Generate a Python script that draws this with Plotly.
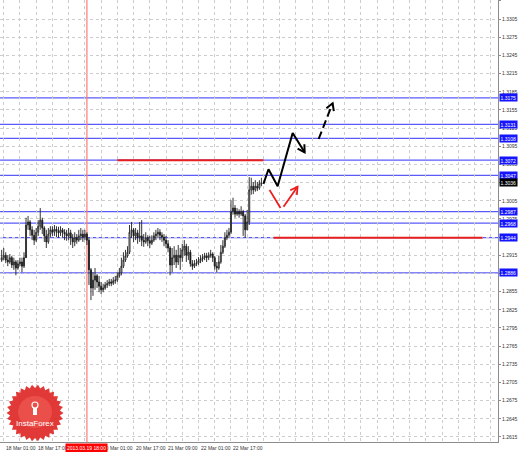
import numpy as np
import plotly.graph_objects as go

# hourly bars, hour 0 = 18 Mar 01:00
open_ = [
    1.2907, 1.2911, 1.2915, 1.2907, 1.2904, 1.2911, 1.2899, 1.2904, 1.2894, 1.2901,
    1.2904, 1.2897, 1.2911, 1.2965, 1.2970, 1.2957, 1.2948, 1.2940, 1.2953, 1.2963,
    1.2973, 1.2960, 1.2947, 1.2937, 1.2950, 1.2957, 1.2953, 1.2958, 1.2955, 1.2952,
    1.2957, 1.2953, 1.2950, 1.2947, 1.2952, 1.2944, 1.2937, 1.2944, 1.2940, 1.2947,
    1.2950, 1.2945, 1.2950, 1.2940, 1.2891, 1.2861, 1.2874, 1.2881, 1.2871, 1.2864,
    1.2858, 1.2861, 1.2866, 1.2868, 1.2871, 1.2869, 1.2873, 1.2874, 1.2881, 1.2886,
    1.2897, 1.2907, 1.2914, 1.2920, 1.2953, 1.2957, 1.2947, 1.2952, 1.2944, 1.2947,
    1.2940, 1.2937, 1.2944, 1.2939, 1.2935, 1.2940, 1.2947, 1.2950, 1.2953, 1.2948,
    1.2945, 1.2940, 1.2934, 1.2927, 1.2899, 1.2911, 1.2915, 1.2904, 1.2915, 1.2911,
    1.2924, 1.2930, 1.2915, 1.2920, 1.2901, 1.2897, 1.2901, 1.2902, 1.2906, 1.2909,
    1.2911, 1.2914, 1.2911, 1.2915, 1.2917, 1.2911, 1.2897, 1.2894, 1.2904, 1.2920,
    1.2930, 1.2944, 1.2948, 1.2953, 1.2987, 1.2993, 1.2983, 1.2987, 1.2983, 1.2987,
    1.2980, 1.2957, 1.2970, 1.3023, 1.3029, 1.3023, 1.3029, 1.3026, 1.3033,
]
high = [
    1.2924, 1.2927, 1.2920, 1.2915, 1.2917, 1.2914, 1.2911, 1.2907, 1.2907, 1.2911,
    1.2911, 1.2920, 1.2977, 1.2980, 1.2973, 1.2963, 1.2957, 1.2960, 1.2973, 1.2993,
    1.2977, 1.2963, 1.2957, 1.2960, 1.2963, 1.2963, 1.2965, 1.2963, 1.2962, 1.2963,
    1.2960, 1.2958, 1.2957, 1.2960, 1.2957, 1.2950, 1.2953, 1.2950, 1.2957, 1.2960,
    1.2957, 1.2957, 1.2953, 1.2944, 1.2894, 1.2887, 1.2894, 1.2884, 1.2881, 1.2871,
    1.2868, 1.2871, 1.2874, 1.2876, 1.2876, 1.2879, 1.2881, 1.2887, 1.2894, 1.2911,
    1.2920, 1.2924, 1.2930, 1.2965, 1.2970, 1.2960, 1.2960, 1.2957, 1.2970, 1.2973,
    1.2950, 1.2953, 1.2948, 1.2947, 1.2948, 1.2953, 1.2957, 1.2960, 1.2958, 1.2953,
    1.2950, 1.2947, 1.2940, 1.2930, 1.2927, 1.2930, 1.2924, 1.2932, 1.2927, 1.2934,
    1.2940, 1.2934, 1.2930, 1.2924, 1.2907, 1.2907, 1.2909, 1.2912, 1.2915, 1.2917,
    1.2919, 1.2919, 1.2920, 1.2924, 1.2920, 1.2914, 1.2904, 1.2914, 1.2932, 1.2940,
    1.2953, 1.2957, 1.2960, 1.3006, 1.3010, 1.2998, 1.2993, 1.2991, 1.2996, 1.2990,
    1.2983, 1.2990, 1.3044, 1.3043, 1.3036, 1.3039, 1.3036, 1.3039, 1.3043,
]
low = [
    1.2904, 1.2907, 1.2902, 1.2897, 1.2901, 1.2894, 1.2891, 1.2882, 1.2891, 1.2897,
    1.2887, 1.2894, 1.2915, 1.2957, 1.2947, 1.2940, 1.2932, 1.2937, 1.2947, 1.2957,
    1.2950, 1.2937, 1.2927, 1.2934, 1.2944, 1.2947, 1.2947, 1.2945, 1.2944, 1.2947,
    1.2944, 1.2940, 1.2939, 1.2940, 1.2932, 1.2927, 1.2930, 1.2934, 1.2937, 1.2940,
    1.2937, 1.2940, 1.2932, 1.2866, 1.2841, 1.2848, 1.2858, 1.2861, 1.2854, 1.2851,
    1.2854, 1.2858, 1.2861, 1.2864, 1.2864, 1.2866, 1.2868, 1.2871, 1.2878, 1.2882,
    1.2894, 1.2904, 1.2911, 1.2917, 1.2944, 1.2937, 1.2940, 1.2934, 1.2937, 1.2930,
    1.2929, 1.2934, 1.2930, 1.2927, 1.2932, 1.2937, 1.2940, 1.2944, 1.2940, 1.2937,
    1.2930, 1.2927, 1.2920, 1.2882, 1.2887, 1.2899, 1.2894, 1.2899, 1.2891, 1.2904,
    1.2914, 1.2904, 1.2907, 1.2896, 1.2891, 1.2894, 1.2897, 1.2899, 1.2902, 1.2904,
    1.2907, 1.2904, 1.2907, 1.2911, 1.2904, 1.2891, 1.2887, 1.2891, 1.2901, 1.2917,
    1.2927, 1.2940, 1.2944, 1.2950, 1.2982, 1.2977, 1.2980, 1.2977, 1.2980, 1.2947,
    1.2944, 1.2957, 1.2965, 1.3015, 1.3016, 1.3020, 1.3021, 1.3023, 1.3029,
]
close = [
    1.2911, 1.2915, 1.2907, 1.2904, 1.2911, 1.2899, 1.2904, 1.2894, 1.2901, 1.2904,
    1.2897, 1.2911, 1.2965, 1.2970, 1.2957, 1.2948, 1.2940, 1.2953, 1.2963, 1.2973,
    1.2960, 1.2947, 1.2937, 1.2950, 1.2957, 1.2953, 1.2958, 1.2955, 1.2952, 1.2957,
    1.2953, 1.2950, 1.2947, 1.2952, 1.2944, 1.2937, 1.2944, 1.2940, 1.2947, 1.2950,
    1.2945, 1.2950, 1.2940, 1.2891, 1.2861, 1.2874, 1.2881, 1.2871, 1.2864, 1.2858,
    1.2861, 1.2866, 1.2868, 1.2871, 1.2869, 1.2873, 1.2874, 1.2881, 1.2886, 1.2897,
    1.2907, 1.2914, 1.2920, 1.2953, 1.2957, 1.2947, 1.2952, 1.2944, 1.2947, 1.2940,
    1.2937, 1.2944, 1.2939, 1.2935, 1.2940, 1.2947, 1.2950, 1.2953, 1.2948, 1.2945,
    1.2940, 1.2934, 1.2927, 1.2899, 1.2911, 1.2915, 1.2904, 1.2915, 1.2911, 1.2924,
    1.2930, 1.2915, 1.2920, 1.2901, 1.2897, 1.2901, 1.2902, 1.2906, 1.2909, 1.2911,
    1.2914, 1.2911, 1.2915, 1.2917, 1.2911, 1.2897, 1.2894, 1.2904, 1.2920, 1.2930,
    1.2944, 1.2948, 1.2953, 1.2987, 1.2993, 1.2983, 1.2987, 1.2983, 1.2987, 1.2980,
    1.2957, 1.2970, 1.3023, 1.3029, 1.3023, 1.3029, 1.3026, 1.3033, 1.3034,
]
hours = list(range(-1, len(close) - 1))

time_hours = [0, 16, 32, 48, 64, 80, 96, 112]
time_labels = ["18 Mar 01:00", "18 Mar 17:00", "19 Mar 09:00", "20 Mar 01:00",
               "20 Mar 17:00", "21 Mar 09:00", "22 Mar 01:00", "22 Mar 17:00"]
marker_hour = 41
marker_label = "2013.03.19 18:00"

price_ticks = [1.2615, 1.2645, 1.2675, 1.2705, 1.2735, 1.2765, 1.2795, 1.2825,
               1.2855, 1.2885, 1.2915, 1.2945, 1.2975, 1.3005, 1.3035, 1.3065,
               1.3095, 1.3125, 1.3155, 1.3185, 1.3215, 1.3245, 1.3275, 1.3305, 1.3336]

blue_levels = [1.3175, 1.3131, 1.3108, 1.3072, 1.3047, 1.2987, 1.2968, 1.2944, 1.2886]
last_price = 1.3036

red_levels = [1.3072, 1.2944]
red_from = [56, 133]
red_to = [128, 236]

# forecast paths (hour, price)
main_h = [128.0, 130.5, 135.0, 142.4, 148.3]
main_p = [1.3033, 1.3057, 1.3029, 1.3117, 1.3085]
dash_h = [155.2, 162.1]
dash_p = [1.3107, 1.3166]
alt1_h = [131.0, 136.4]
alt1_p = [1.3023, 1.2993]
alt2_h = [137.9, 144.8]
alt2_p = [1.2995, 1.3028]

X0, X1 = -1.83, 243.6
Y0, Y1 = 1.26067, 1.33365
W, H = 498, 442


def to_px(h, p):
    return (h - X0) / (X1 - X0) * W, (Y1 - p) / (Y1 - Y0) * H


def from_px(x, y):
    return X0 + x / W * (X1 - X0), Y1 - y / H * (Y1 - Y0)


def arrow_head(hs, ps, length=8, ang=30):
    xa, ya = to_px(hs[-2], ps[-2])
    xb, yb = to_px(hs[-1], ps[-1])
    a = np.arctan2(ya - yb, xa - xb)
    pts = []
    for d in (np.radians(ang), -np.radians(ang)):
        pts.append(from_px(xb + length * np.cos(a + d), yb + length * np.sin(a + d)))
    return [pts[0][0], hs[-1], pts[1][0]], [pts[0][1], ps[-1], pts[1][1]]


fig = go.Figure()

fig.add_trace(go.Candlestick(
    x=hours, open=open_, high=high, low=low, close=close,
    increasing=dict(line=dict(color='rgb(30,30,30)', width=0.9), fillcolor='white'),
    decreasing=dict(line=dict(color='rgb(30,30,30)', width=0.9), fillcolor='black'),
    whiskerwidth=0, hoverinfo='skip'))

for lv in blue_levels:
    fig.add_shape(type='line', xref='paper', x0=0, x1=1, y0=lv, y1=lv,
                  line=dict(color='rgb(90,90,250)', width=1.2), layer='below')

for lv, a, b in zip(red_levels, red_from, red_to):
    fig.add_shape(type='line', x0=a, x1=b, y0=lv, y1=lv,
                  line=dict(color='rgb(230,30,30)', width=2))

fig.add_shape(type='line', x0=marker_hour, x1=marker_hour, yref='paper', y0=0, y1=1,
              line=dict(color='rgb(255,120,120)', width=1.2), layer='below')

line_k = dict(color='black', width=2)
line_r = dict(color='rgb(235,30,30)', width=1.8)
fig.add_trace(go.Scatter(x=main_h, y=main_p, mode='lines', line=line_k, hoverinfo='skip'))
ax, ay = arrow_head(main_h, main_p)
fig.add_trace(go.Scatter(x=ax, y=ay, mode='lines', line=line_k, hoverinfo='skip'))
fig.add_trace(go.Scatter(x=dash_h, y=dash_p, mode='lines', line=dict(color='black', width=2, dash='8px,4px'),
                         hoverinfo='skip'))
ax, ay = arrow_head(dash_h, dash_p)
fig.add_trace(go.Scatter(x=ax, y=ay, mode='lines', line=line_k, hoverinfo='skip'))
fig.add_trace(go.Scatter(x=alt1_h, y=alt1_p, mode='lines', line=line_r, hoverinfo='skip'))
fig.add_trace(go.Scatter(x=alt2_h, y=alt2_p, mode='lines', line=line_r, hoverinfo='skip'))
ax, ay = arrow_head(alt2_h, alt2_p)
fig.add_trace(go.Scatter(x=ax, y=ay, mode='lines', line=line_r, hoverinfo='skip'))

# InstaForex badge
cx, cy, R, r, n = 35, 413, 28.5, 25, 30
ang = np.linspace(0, 2 * np.pi, 2 * n, endpoint=False)
rad = np.where(np.arange(2 * n) % 2 == 0, R, r)
px = cx + rad * np.cos(ang)
py = cy + rad * np.sin(ang)
path = 'M ' + ' L '.join(f'{x / W:.4f},{1 - y / H:.4f}' for x, y in zip(px, py)) + ' Z'
fig.add_shape(type='path', xref='paper', yref='paper', path=path,
              fillcolor='rgba(222,42,40,0.93)', line=dict(width=0))
fig.add_shape(type='circle', xref='paper', yref='paper',
              x0=(cx - 17) / W, x1=(cx + 17) / W, y0=1 - (cy + 15) / H, y1=1 - (cy - 17) / H,
              fillcolor='rgba(255,120,110,0.35)', line=dict(width=0))
fig.add_shape(type='circle', xref='paper', yref='paper',
              x0=(cx - 3) / W, x1=(cx + 3) / W, y0=1 - (cy - 5) / H, y1=1 - (cy - 11) / H,
              line=dict(color='white', width=1.2))
fig.add_shape(type='rect', xref='paper', yref='paper',
              x0=(cx - 2) / W, x1=(cx + 2) / W, y0=1 - (cy + 2) / H, y1=1 - (cy - 5) / H,
              fillcolor='white', line=dict(width=0))
fig.add_annotation(xref='paper', yref='paper', x=cx / W, y=1 - 423 / H, text='InstaForex',
                   showarrow=False, xanchor='center', yanchor='middle',
                   font=dict(family='Liberation Sans', size=8, color='white'))

small = dict(family='Liberation Sans', size=5, color='#333333')
for h, t in zip(time_hours, time_labels):
    fig.add_annotation(x=h, yref='paper', y=0, text=t, showarrow=False, xanchor='left',
                       yanchor='top', yshift=-1, font=small)
fig.add_annotation(x=marker_hour, yref='paper', y=0, text=marker_label, showarrow=False,
                   xanchor='center', yanchor='top', yshift=-1, bgcolor='rgb(255,0,0)', borderpad=1,
                   font=dict(family='Liberation Sans', size=5, color='white'))

for lv in blue_levels:
    fig.add_annotation(xref='paper', x=1, y=lv, text=f'{lv:.4f}', showarrow=False, xanchor='left',
                       yanchor='middle', xshift=1, bgcolor='rgb(20,20,255)', borderpad=0.5,
                       font=dict(family='Liberation Sans', size=5, color='white'))
fig.add_annotation(xref='paper', x=1, y=last_price, text=f'{last_price:.4f}', showarrow=False,
                   xanchor='left', yanchor='middle', xshift=1, bgcolor='black', borderpad=0.5,
                   font=dict(family='Liberation Sans', size=5, color='white'))

fig.update_layout(
    width=519, height=452,
    margin=dict(l=0, r=21, t=0, b=10),
    paper_bgcolor='white', plot_bgcolor='white',
    showlegend=False,
    xaxis=dict(range=[X0, X1], rangeslider=dict(visible=False), showticklabels=False,
               tick0=0, dtick=8, showgrid=True, gridcolor='rgb(205,205,205)', griddash='dot',
               gridwidth=1, zeroline=False, showline=True, linecolor='rgb(140,140,140)'),
    yaxis=dict(range=[Y0, Y1], side='right', tickvals=price_ticks,
               ticktext=[f'{v:.4f}' for v in price_ticks], tickfont=small,
               ticks='outside', ticklen=2, tickcolor='rgb(140,140,140)',
               showgrid=True, gridcolor='rgb(205,205,205)', griddash='dot', zeroline=False,
               showline=True, linecolor='rgb(140,140,140)', automargin=False),
)

fig.write_html("out.html", config={'displayModeBar': False},
               post_script="document.body.style.margin='0px';")
